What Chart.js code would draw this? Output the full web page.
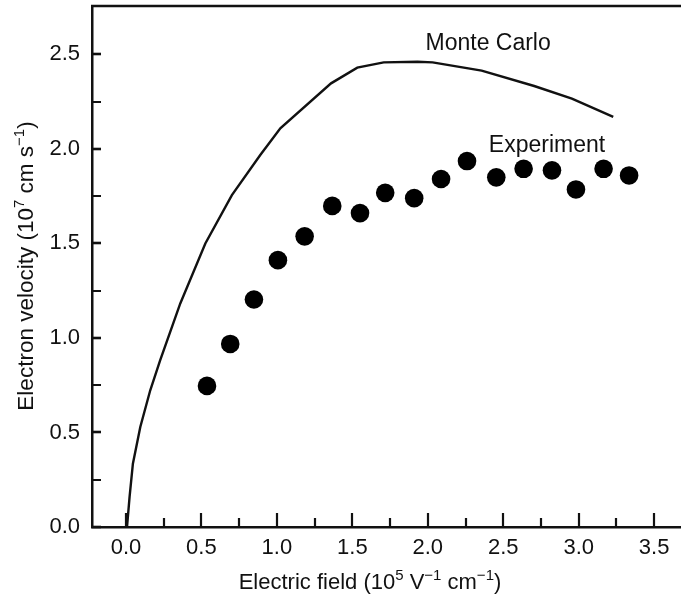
<!DOCTYPE html>
<html>
<head>
<meta charset="utf-8">
<script src="https://cdn.jsdelivr.net/npm/chart.js@4.4.0/dist/chart.umd.min.js"></script>
<style>
  html, body { margin: 0; padding: 0; background: #fff; }
  #wrap { width: 681px; height: 601px; }
</style>
</head>
<body>
<div id="wrap"><canvas id="myChart" width="681" height="601"></canvas></div>
<script>
// Monte Carlo curve (field in 1e5 V/cm, velocity in 1e7 cm/s)
const mcField = [0.007, 0.024, 0.046, 0.095, 0.161, 0.227, 0.305, 0.36, 0.526, 0.702, 0.89, 1.023, 1.359, 1.533, 1.708, 1.932, 2.032, 2.357, 2.705, 2.955, 3.229];
const mcVelocity = [0.0, 0.159, 0.335, 0.529, 0.723, 0.882, 1.058, 1.182, 1.499, 1.755, 1.967, 2.108, 2.346, 2.429, 2.457, 2.46, 2.457, 2.413, 2.332, 2.265, 2.169];

// Experiment points
const expField = [0.537, 0.691, 0.848, 1.007, 1.184, 1.367, 1.551, 1.718, 1.91, 2.088, 2.26, 2.454, 2.635, 2.823, 2.982, 3.165, 3.334];
const expVelocity = [0.746, 0.968, 1.203, 1.411, 1.537, 1.698, 1.66, 1.767, 1.739, 1.84, 1.935, 1.849, 1.894, 1.886, 1.785, 1.894, 1.859];

const xTicks = [0, 0.5, 1.0, 1.5, 2.0, 2.5, 3.0, 3.5];
const yTicks = [0, 0.5, 1.0, 1.5, 2.0, 2.5];

// axis titles as [text, superscript?] runs
const xTitle = [['Electric field (10', false], ['5', true], [' V', false], ['\u22121', true], [' cm', false], ['\u22121', true], [')', false]];
const yTitle = [['Electron velocity (10', false], ['7', true], [' cm s', false], ['\u22121', true], [')', false]];

const FONT = '"Liberation Sans", Arial, Helvetica, sans-serif';
const INK = '#111';
const TEXT_SIZE = 22;
const SUP_SIZE = 15;

function runsWidth(ctx, runs, size) {
    let w = 0;
    runs.forEach(([t, sup]) => {
        ctx.font = (sup ? SUP_SIZE : size) + 'px ' + FONT;
        w += ctx.measureText(t).width;
    });
    return w;
}

// draws runs centred on (0,0) of the current transform
function drawRuns(ctx, runs, size) {
    let cx = -runsWidth(ctx, runs, size) / 2;
    ctx.textAlign = 'left';
    ctx.textBaseline = 'middle';
    runs.forEach(([t, sup]) => {
        ctx.font = (sup ? SUP_SIZE : size) + 'px ' + FONT;
        ctx.fillText(t, cx, sup ? -7 : 0);
        cx += ctx.measureText(t).width;
    });
}

// inward ticks + top frame line + titles + curve labels
const decorations = {
    id: 'decorations',
    afterDraw(chart) {
        const { ctx, chartArea, scales: { x, y } } = chart;
        ctx.save();
        ctx.strokeStyle = INK;
        ctx.lineWidth = 2.5;
        // top frame
        ctx.beginPath();
        ctx.moveTo(chartArea.left - 1, chartArea.top);
        ctx.lineTo(chartArea.right + 2, chartArea.top);
        ctx.stroke();

        ctx.lineWidth = 2.2;
        // x ticks (major + minor), pointing up
        for (let v = 0; v <= 3.76; v += 0.25) {
            const px = Math.round(x.getPixelForValue(v));
            const major = Math.abs(v * 2 - Math.round(v * 2)) < 1e-6;
            const len = major ? 14 : 9;
            ctx.beginPath();
            ctx.moveTo(px, chartArea.bottom);
            ctx.lineTo(px, chartArea.bottom - len);
            ctx.stroke();
        }
        // y ticks, pointing right
        for (let v = 0; v <= 2.51; v += 0.25) {
            const py = Math.round(y.getPixelForValue(v));
            const major = Math.abs(v * 2 - Math.round(v * 2)) < 1e-6;
            ctx.lineWidth = major ? 2.6 : 2;
            ctx.beginPath();
            ctx.moveTo(chartArea.left, py);
            ctx.lineTo(chartArea.left + 9, py);
            ctx.stroke();
        }

        ctx.fillStyle = INK;
        // axis titles
        ctx.save();
        ctx.translate(370, 583);
        drawRuns(ctx, xTitle, TEXT_SIZE);
        ctx.restore();
        ctx.save();
        ctx.translate(27, 266);
        ctx.rotate(-Math.PI / 2);
        drawRuns(ctx, yTitle, 22.5);
        ctx.restore();

        // curve labels
        ctx.font = '23px ' + FONT;
        ctx.textAlign = 'center';
        ctx.textBaseline = 'middle';
        ctx.fillText('Monte Carlo', x.getPixelForValue(2.4), y.getPixelForValue(2.555));
        ctx.fillText('Experiment', x.getPixelForValue(2.79), y.getPixelForValue(2.014));
        ctx.restore();
    }
};

const noPad = (scale) => {
    scale.paddingTop = 0;
    scale.paddingBottom = 0;
    scale.paddingLeft = 0;
    scale.paddingRight = 0;
};

const ctx = document.getElementById('myChart').getContext('2d');
new Chart(ctx, {
    type: 'scatter',
    data: {
        datasets: [
            {
                label: 'Monte Carlo',
                data: mcField.map((f, i) => ({ x: f, y: mcVelocity[i] })),
                showLine: true,
                borderColor: INK,
                borderWidth: 2.4,
                pointRadius: 0,
                tension: 0,
                fill: false,
            },
            {
                label: 'Experiment',
                data: expField.map((f, i) => ({ x: f, y: expVelocity[i] })),
                backgroundColor: '#000',
                borderColor: '#000',
                borderWidth: 0,
                pointRadius: 9.3,
            },
        ],
    },
    options: {
        responsive: false,
        animation: false,
        layout: { autoPadding: false, padding: { top: 6, right: 0, left: 0, bottom: 0 } },
        plugins: {
            legend: { display: false },
            tooltip: { enabled: false },
        },
        scales: {
            x: {
                type: 'linear',
                min: -0.225,
                max: 3.678,
                grid: { display: false, drawTicks: false },
                border: { display: true, color: INK, width: 2.5 },
                afterBuildTicks: (scale) => { scale.ticks = xTicks.map(v => ({ value: v })); },
                afterFit: (scale) => { scale.height = 74; noPad(scale); },
                ticks: {
                    padding: 8,
                    color: INK,
                    font: { family: FONT, size: TEXT_SIZE },
                    callback: (v) => Number(v).toFixed(1),
                    maxRotation: 0,
                },
            },
            y: {
                type: 'linear',
                min: 0,
                max: 2.755,
                grid: { display: false, drawTicks: false },
                border: { display: true, color: INK, width: 2.5 },
                afterBuildTicks: (scale) => { scale.ticks = yTicks.map(v => ({ value: v })); },
                afterFit: (scale) => { scale.width = 92; noPad(scale); },
                ticks: {
                    padding: 12,
                    color: INK,
                    font: { family: FONT, size: TEXT_SIZE },
                    callback: (v) => Number(v).toFixed(1),
                },
            },
        },
    },
    plugins: [decorations],
});
</script>
</body>
</html>
